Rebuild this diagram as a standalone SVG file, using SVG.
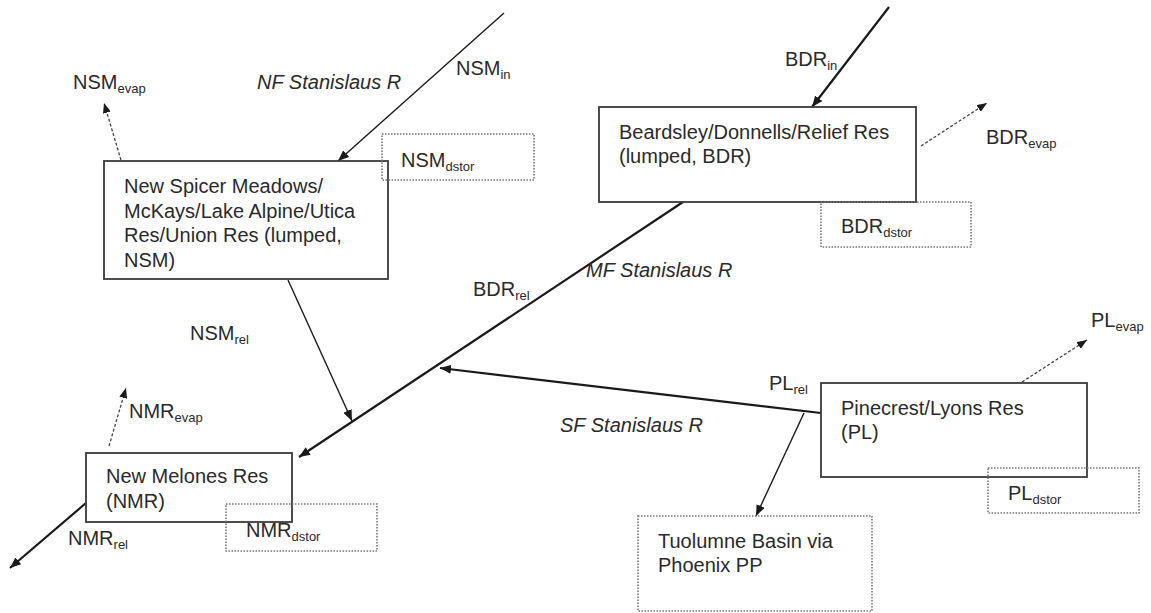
<svg xmlns="http://www.w3.org/2000/svg" width="1151" height="613" viewBox="0 0 1151 613">
<defs>
<marker id="ah" markerUnits="userSpaceOnUse" markerWidth="11" markerHeight="9" refX="11" refY="4.5" orient="auto"><path d="M0,0 L11,4.5 L0,9 z" fill="#1a1a1a"/></marker>
<marker id="ahs" markerUnits="userSpaceOnUse" markerWidth="10" markerHeight="8" refX="10" refY="4" orient="auto"><path d="M0,0 L10,4 L0,8 z" fill="#1a1a1a"/></marker>
</defs>
<style>
text{font-family:"Liberation Sans",Arial,sans-serif;font-size:20px;fill:#2a2a2a}
.it{font-style:italic}
.sub{font-size:13px}
.box{fill:none;stroke:#3a3a3a;stroke-width:1.8}
.dbox{fill:none;stroke:#777;stroke-width:1.6;stroke-dasharray:1.5 1.5}
.river{fill:none;stroke:#1a1a1a;stroke-width:2.2}
.thin{fill:none;stroke:#1a1a1a;stroke-width:1.4}
.evap{fill:none;stroke:#444;stroke-width:1.3;stroke-dasharray:3 2}
</style>
<rect width="1151" height="613" fill="#fff"/>

<g id="connectors">
<line class="thin" x1="504" y1="13" x2="338" y2="161" marker-end="url(#ah)"/>
<line class="river" x1="889" y1="7" x2="812" y2="107" marker-end="url(#ah)"/>
<line class="river" x1="683" y1="202" x2="299" y2="457" marker-end="url(#ah)"/>
<line class="thin" x1="288" y1="280" x2="352" y2="421" marker-end="url(#ah)"/>
<line class="river" x1="821" y1="413" x2="440" y2="368" marker-end="url(#ah)"/>
<line class="thin" x1="804" y1="413" x2="756" y2="516" marker-end="url(#ah)"/>
<line class="river" x1="86" y1="503" x2="10" y2="568" marker-end="url(#ah)"/>
<line class="evap" x1="121" y1="160" x2="104" y2="103" marker-end="url(#ahs)"/>
<line class="evap" x1="921" y1="146" x2="987" y2="103" marker-end="url(#ahs)"/>
<line class="evap" x1="1022" y1="382" x2="1087" y2="340" marker-end="url(#ahs)"/>
<line class="evap" x1="109" y1="446" x2="126" y2="388" marker-end="url(#ahs)"/>
</g>

<g id="labels">
<text class="it" x="257" y="89">NF Stanislaus R</text>
<text class="it" x="586" y="277">MF Stanislaus R</text>
<text class="it" x="560" y="432">SF Stanislaus R</text>
<text x="456" y="75">NSM<tspan class="sub" dy="4">in</tspan></text>
<text x="73" y="89">NSM<tspan class="sub" dy="4">evap</tspan></text>
<text x="190" y="340">NSM<tspan class="sub" dy="4">rel</tspan></text>
<text x="785" y="66">BDR<tspan class="sub" dy="4">in</tspan></text>
<text x="986" y="144">BDR<tspan class="sub" dy="4">evap</tspan></text>
<text x="473" y="296">BDR<tspan class="sub" dy="4">rel</tspan></text>
<text x="769" y="390">PL<tspan class="sub" dy="4">rel</tspan></text>
<text x="1091" y="327">PL<tspan class="sub" dy="4">evap</tspan></text>
<text x="129" y="418">NMR<tspan class="sub" dy="4">evap</tspan></text>
<text x="68" y="545">NMR<tspan class="sub" dy="4">rel</tspan></text>
</g>

<g id="NSM">
<rect class="box" x="104" y="161" width="284" height="118"/>
<text x="124" y="193">New Spicer Meadows/</text>
<text x="124" y="217.5">McKays/Lake Alpine/Utica</text>
<text x="124" y="242">Res/Union Res (lumped,</text>
<text x="124" y="266.5">NSM)</text>
</g>
<g id="NSM_dstor">
<rect class="dbox" x="382" y="134" width="152" height="46"/>
<text x="401" y="167">NSM<tspan class="sub" dy="4">dstor</tspan></text>
</g>

<g id="BDR">
<rect class="box" x="599" y="107" width="317" height="95"/>
<text x="619" y="139">Beardsley/Donnells/Relief Res</text>
<text x="619" y="163">(lumped, BDR)</text>
</g>
<g id="BDR_dstor">
<rect class="dbox" x="821" y="202" width="150" height="45"/>
<text x="841" y="233">BDR<tspan class="sub" dy="4">dstor</tspan></text>
</g>

<g id="PL">
<rect class="box" x="821" y="383" width="266" height="94"/>
<text x="841" y="415">Pinecrest/Lyons Res</text>
<text x="841" y="439">(PL)</text>
</g>
<g id="PL_dstor">
<rect class="dbox" x="988" y="468" width="151" height="45"/>
<text x="1008" y="500">PL<tspan class="sub" dy="4">dstor</tspan></text>
</g>

<g id="NMR">
<rect class="box" x="86" y="453" width="206" height="69"/>
<text x="106" y="483">New Melones Res</text>
<text x="106" y="508">(NMR)</text>
</g>
<g id="NMR_dstor">
<rect class="dbox" x="226" y="504" width="151" height="47"/>
<text x="246" y="537">NMR<tspan class="sub" dy="4">dstor</tspan></text>
</g>

<g id="Tuolumne">
<rect class="dbox" x="638" y="516" width="234" height="95"/>
<text x="658" y="548">Tuolumne Basin via</text>
<text x="658" y="572">Phoenix PP</text>
</g>
</svg>
